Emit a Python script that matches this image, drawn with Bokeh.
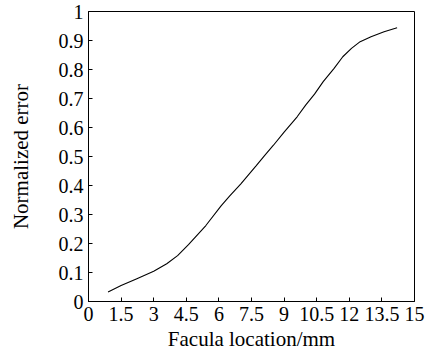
from bokeh.plotting import figure
from bokeh.models import Range1d, FixedTicker, CustomJSTickFormatter
from bokeh.embed import file_html
from bokeh.resources import INLINE

# Data
location_mm = [0.9, 1.5, 2.2, 3.0, 3.6, 4.1, 4.6, 5.4, 6.1, 6.5, 7.0, 7.7,
               8.1, 8.5, 9.0, 9.6, 10.0, 10.4, 10.8, 11.3, 11.7, 12.1, 12.5,
               13.0, 13.6, 14.2]
normalized_error = [0.033, 0.055, 0.078, 0.104, 0.13, 0.158, 0.196, 0.262,
                    0.33, 0.364, 0.405, 0.467, 0.503, 0.538, 0.584, 0.637,
                    0.678, 0.715, 0.758, 0.804, 0.844, 0.873, 0.896, 0.913,
                    0.930, 0.944]
x_ticks = [0, 1.5, 3, 4.5, 6, 7.5, 9, 10.5, 12, 13.5, 15]
y_ticks = [0, 0.1, 0.2, 0.3, 0.4, 0.5, 0.6, 0.7, 0.8, 0.9, 1]
x_label = "Facula location/mm"
y_label = "Normalized error"

FONT = "Liberation Serif"

p = figure(width=437, height=353, output_backend="svg", toolbar_location=None,
           x_range=Range1d(0, 15), y_range=Range1d(0, 1),
           min_border_left=88, min_border_right=23, min_border_top=11,
           min_border_bottom=51)

p.line(location_mm, normalized_error, line_color="black", line_width=1.1)

p.xgrid.visible = False
p.ygrid.visible = False
p.outline_line_color = "black"
p.outline_line_width = 1
p.background_fill_color = "white"
p.border_fill_color = "white"

fmt = CustomJSTickFormatter(code="return String(Math.round(tick*10)/10);")

for ax, ticks in ((p.xaxis[0], x_ticks), (p.yaxis[0], y_ticks)):
    ax.ticker = FixedTicker(ticks=ticks)
    ax.formatter = fmt
    ax.major_tick_in = 4
    ax.major_tick_out = 0
    ax.minor_tick_line_color = None
    ax.axis_line_color = "black"
    ax.major_tick_line_color = "black"
    ax.major_label_text_font = FONT
    ax.major_label_text_font_size = "20px"
    ax.major_label_text_color = "black"
    ax.major_label_standoff = 5
    ax.axis_label_text_font = FONT
    ax.axis_label_text_font_size = "21px"
    ax.axis_label_text_font_style = "normal"
    ax.axis_label_text_color = "black"

p.xaxis.axis_label = x_label
p.yaxis.axis_label = y_label
p.xaxis.axis_label_standoff = 3
p.yaxis.axis_label_standoff = 23

open("out.html", "w").write(file_html(p, INLINE))
